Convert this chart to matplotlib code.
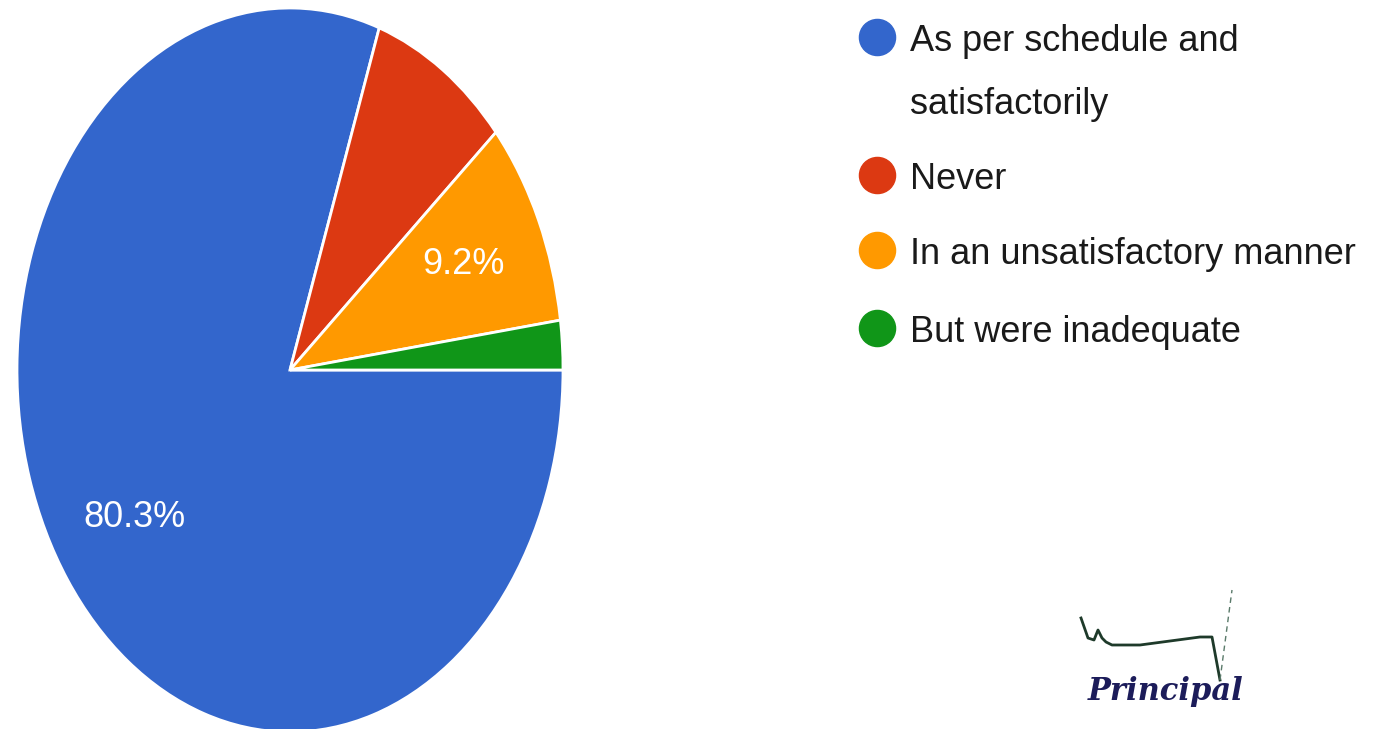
import matplotlib.pyplot as plt
from matplotlib.lines import Line2D

# survey answers (Google Forms style pie)
labels = ['As per schedule and\nsatisfactorily', 'Never',
          'In an unsatisfactory manner', 'But were inadequate']
shares = [80.3, 8.3, 9.2, 2.2]
colors = ['#3366cc', '#dc3912', '#ff9900', '#109618']

plt.rcParams['font.family'] = ['Liberation Sans', 'DejaVu Sans']

fig = plt.figure(figsize=(13.78, 7.29), dpi=100)
fig.patch.set_facecolor('white')

# pie is stretched vertically in the picture, so aspect is left free
ax = fig.add_axes([17/1378, -3/729, 546/1378, 724/729])
wedges, texts, autotexts = ax.pie(
    shares, colors=colors, startangle=0, counterclock=False,
    wedgeprops=dict(edgecolor='white', linewidth=2),
    autopct=lambda p: '%.1f%%' % p if p > 9 else '', pctdistance=0.70,
    textprops=dict(color='white', fontsize=26))
ax.set_aspect('auto')
ax.set_xlim(-1, 1)
ax.set_ylim(-1, 1)

# overlay in pixel coords for the legend and the signature
ov = fig.add_axes([0, 0, 1, 1])
ov.set_xlim(0, 1378)
ov.set_ylim(729, 0)
ov.axis('off')

row_y = [37, 175, 250, 328]
for i in range(len(labels)):
    ov.add_line(Line2D([877], [row_y[i]], marker='o', markersize=26,
                       color=colors[i], linestyle='none'))
    ov.text(910, row_y[i] + 14, labels[i].split('\n')[0], fontsize=26,
            color='#1a1a1a', va='baseline')
    if '\n' in labels[i]:
        ov.text(910, row_y[i] + 77, labels[i].split('\n')[1], fontsize=26,
                color='#1a1a1a', va='baseline')

# signature stamp
ov.plot([1081, 1088, 1094, 1098, 1102, 1106, 1112, 1140, 1200, 1212, 1220],
        [618, 638, 640, 630, 638, 642, 645, 645, 637, 637, 680],
        color='#1e3a2a', lw=2)
ov.plot([1220, 1232], [680, 590], color='#5a7a6a', lw=1, linestyle=(0, (4, 3)))
ov.text(1088, 700, 'Principal', fontsize=22, family=['DejaVu Serif'],
        style='italic', fontweight='bold', color='#1c1c5a', va='baseline')

fig.savefig('out.png', dpi=100, facecolor='white')
